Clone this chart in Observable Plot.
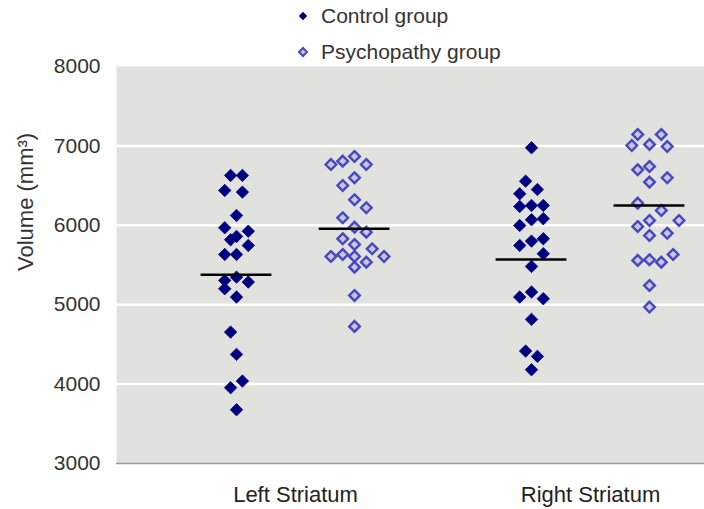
<!DOCTYPE html>
<html><head><meta charset="utf-8">
<script src="https://cdn.jsdelivr.net/npm/d3@7"></script>
<script src="https://cdn.jsdelivr.net/npm/@observablehq/plot@0.6"></script>
<style>
body{margin:0;background:#fff;font-family:"Liberation Sans",Arial,sans-serif;}
#wrap{width:704px;height:509px;position:relative;overflow:hidden}
#legend{position:relative;height:44px}
.item{position:absolute;left:297px;display:flex;align-items:center;font-size:21px;color:#333;height:24px;white-space:nowrap}
.item svg{margin-right:12px;overflow:visible}
</style></head><body>
<div id="wrap"><div id="legend"></div><div id="chart"></div></div>
<script>
const regions = ["Left Striatum", "Right Striatum"];
const groups = ["Control group", "Psychopathy group"];
const yTicks = [3000, 4000, 5000, 6000, 7000, 8000];

const leftControl = [6628, 6628, 6439, 6418, 6124, 5969, 5926, 5860, 5818, 5746, 5633, 5633, 5347, 5306, 5285, 5201, 5096, 4655, 4374, 4038, 3955, 3677];
const leftControlSlot = [-0.5, 0.5, -1, 0.5, 0, -1, 1, 0, -0.5, 1, -1, 0, 0, -1, 1, -1, 0, -0.5, 0, 0.5, -0.5, 0];

const leftPsycho = [6766, 6808, 6867, 6766, 6502, 6599, 6322, 6221, 6095, 5977, 5914, 5830, 5759, 5704, 5608, 5633, 5608, 5536, 5608, 5473, 5117, 4727];
const leftPsychoSlot = [-2, -1, 0, 1, -1, 0, 0, 1, -1, 0, 1, -1, 0, 1.5, -2, -1, 0, 1, 2.5, 0, 0, 0];

const rightControl = [6976, 6556, 6451, 6397, 6237, 6250, 6250, 6070, 6083, 5998, 5801, 5830, 5746, 5642, 5482, 5096, 5159, 5075, 4815, 4416, 4349, 4181];
const rightControlSlot = [0, -0.5, 0.5, -1, -1, 0, 1, 0, 1, -1, 0, 1, -1, 1, 0, -1, 0, 1, 0, -0.5, 0.5, 0];

const rightPsycho = [7144, 7144, 7005, 7018, 6993, 6699, 6741, 6544, 6599, 6279, 6187, 5986, 6061, 6061, 5872, 5901, 5558, 5566, 5536, 5633, 5243, 4970];
const rightPsychoSlot = [-1, 1, -1.5, 0, 1.5, -1, 0, 0, 1.5, -1, 1, -1, 0, 2.5, 0, 1.5, -1, 0, 1, 2, 0, 0];

const leftMeans = [5377, 5957];
const rightMeans = [5570, 6250];

// build tables
const series = [
  [0, 0, leftControl, leftControlSlot],
  [0, 1, leftPsycho, leftPsychoSlot],
  [1, 0, rightControl, rightControlSlot],
  [1, 1, rightPsycho, rightPsychoSlot]
];
const REGION_STEP = 2.5, SLOT = 0.1, HALF = 0.3;
const points = [];
for (const [r, g, vals, slots] of series) {
  vals.forEach((v, i) => points.push({region: regions[r], group: groups[g], pos: r * REGION_STEP + g, slot: slots[i], value: v}));
}
const means = [];
[leftMeans, rightMeans].forEach((m, r) => m.forEach((v, g) => means.push({pos: r * REGION_STEP + g, value: v})));
const regionTicks = regions.map((_, r) => r * REGION_STEP + 0.5);

const navy = "#000080";
const psyStroke = "#4848be";
const psyFill = "#c6c6ea";

const plot = Plot.plot({
  width: 704,
  height: 465,
  marginTop: 22,
  marginBottom: 46,
  marginLeft: 116,
  marginRight: 0,
  style: {fontFamily: "Liberation Sans, Arial, sans-serif", fontSize: "21px", color: "#333", background: "white", overflow: "visible"},
  x: {domain: [-1.017, 3.966]},
  y: {domain: [3000, 8000]},
  marks: [
    Plot.frame({fill: "#e1e2dd", stroke: null}),
    Plot.gridY({ticks: yTicks.slice(1, -1), stroke: "white", strokeOpacity: 1, strokeWidth: 2.5}),
    Plot.ruleY([3000], {stroke: "#9a9a9a", strokeWidth: 1.5}),
    Plot.axisY({ticks: yTicks, tickSize: 0, tickPadding: 16, tickFormat: d => String(d), fontSize: 21, fill: "#333", label: null}),
    Plot.axisX({ticks: regionTicks, tickSize: 0, tickPadding: 23, tickFormat: d => regions[regionTicks.indexOf(d)], fontSize: 22, fill: "#222", label: null}),
    Plot.text(["Volume (mm³)"], {frameAnchor: "left", rotate: -90, dx: -91, dy: 6, fontSize: 22, fill: "#333"}),
    Plot.dot(points.filter(d => d.group === groups[0]), {x: d => d.pos + d.slot * SLOT, y: "value", symbol: "diamond2", r: 5.6, fill: navy, stroke: navy, strokeWidth: 0.8}),
    Plot.dot(points.filter(d => d.group === groups[1]), {x: d => d.pos + d.slot * SLOT, y: "value", symbol: "diamond2", r: 4.8, fill: psyFill, stroke: psyStroke, strokeWidth: 2.4}),
    Plot.ruleY(means, {y: "value", x1: d => d.pos - HALF, x2: d => d.pos + HALF, stroke: "black", strokeWidth: 2.5})
  ]
});
document.getElementById("chart").appendChild(plot);

// legend
const legend = document.getElementById("legend");
const legendItems = [
  {label: groups[0], fill: navy, stroke: navy, sw: 0.5, top: 4},
  {label: groups[1], fill: psyFill, stroke: psyStroke, sw: 2, top: 40}
];
const diamondPath = d3.symbol(d3.symbolDiamond2, 40)();
for (const it of legendItems) {
  const div = document.createElement("div");
  div.className = "item";
  div.style.top = it.top + "px";
  div.style.zIndex = 2;
  div.innerHTML = `<svg width="12" height="12" viewBox="-6 -6 12 12"><path d="${diamondPath}" fill="${it.fill}" stroke="${it.stroke}" stroke-width="${it.sw}"/></svg><span>${it.label}</span>`;
  legend.appendChild(div);
}
</script>
</body></html>
